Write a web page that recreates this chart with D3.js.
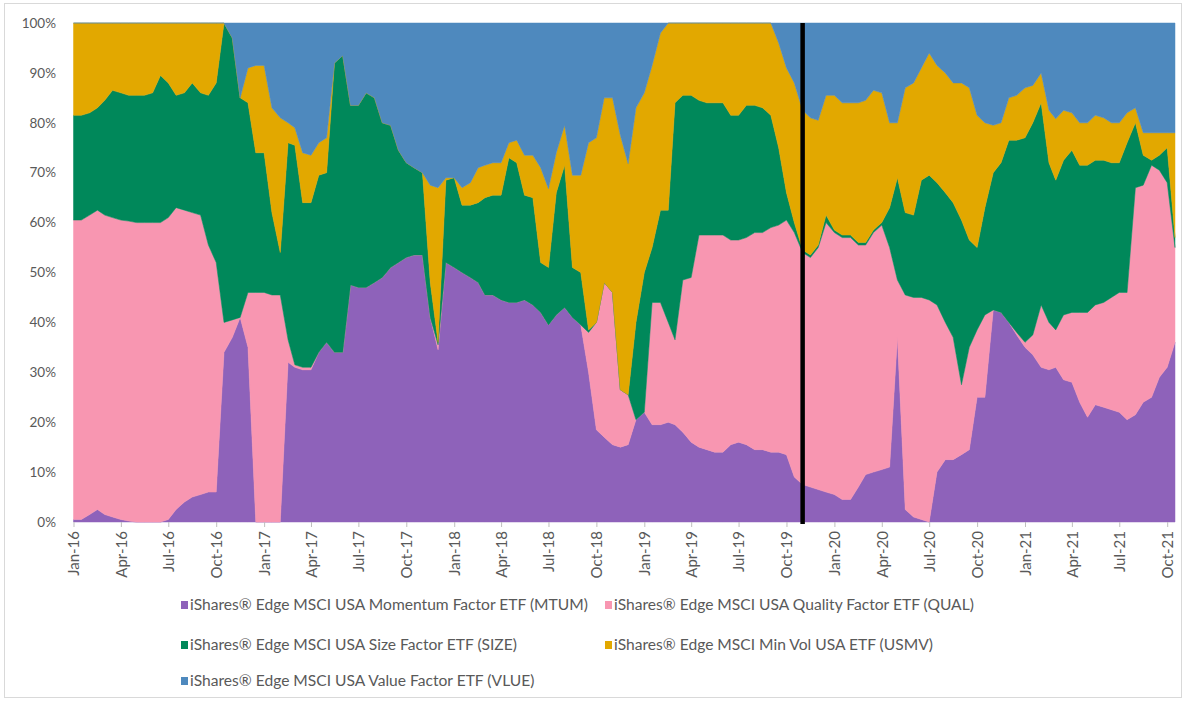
<!DOCTYPE html>
<meta charset="utf-8">
<head>
  <title>iShares factor ETF allocation (100% stacked)</title>
</head>

<style>
body { margin: 0; background: #fff; }
svg text { font-family: Lato, "Open Sans", sans-serif; fill: #595959; }
.frame { fill: none; stroke: #d9d9d9; stroke-width: 1; }
.xaxis path, .xaxis line { stroke: #bfbfbf; }
</style>

<body>
<svg width="1188" height="702"></svg>
<script src="https://cdnjs.cloudflare.com/ajax/libs/d3/7.8.5/d3.min.js"></script>
<script>

var keys = ["MTUM", "QUAL", "SIZE", "USMV", "VLUE"];
var names = [
  "iShares® Edge MSCI USA Momentum Factor ETF (MTUM)",
  "iShares® Edge MSCI USA Quality Factor ETF (QUAL)",
  "iShares® Edge MSCI USA Size Factor ETF (SIZE)",
  "iShares® Edge MSCI Min Vol USA ETF (USMV)",
  "iShares® Edge MSCI USA Value Factor ETF (VLUE)"
];
var colors = ["#8e62ba", "#f896b1", "#00885a", "#e2a800", "#4e89be"];

// weights in %, one reading on the 1st and the 16th of every month
var mtum = [0.5,0.5,1.5,2.5,1.5,1,0.5,0.2,0,0, 0,0,0.5,2.5,4,5,5.5,6,6,34,
  37,41,35,0,0,0,0,32,31,30.5, 30.5,34,36,34,34,47.5,47,47,48,49,
  51,52,53,53.5,53.5,41,34.5,52,51,50, 49,48,45.5,45.5,44.5,44,44,44.5,43.5,42,
  39.5,41.5,43,41,39.5,30,18.5,17,15.5,15, 15.5,20.5,22,19.5,19.5,20,19.5,18,16,15,
  14.5,14,14,15.5,16,15.5,14.5,14.5,14,14, 13.5,9,7.5,7,6.5,6,5.5,4.5,4.5,7,
  9.5,10,10.5,11,37,2.5,1,0.5,0,10, 12.5,12.5,13.5,14.5,25,25,42.5,42,40,37.5,
  35,33.5,31,30.5,31,28.5,28,24,21,23.5, 23,22.5,22,20.5,21.5,24,25,29,31,36];
var qual = [60,60,60,60,60,60,60,60.1,60,60, 60,60,60.5,60.5,58.5,57,56,49.5,46,6,
  3.5,0,11,46,46,45.5,45.5,4.5,0.5,0.5, 0.5,0,0,0,0,0,0,0,0,0,
  0,0,0,0,0,0,1,0,0,0, 0,0,0,0,0,0,0,0,0,0,
  0,0,0,0,0,8,21.5,31,30.5,11.5, 10,0,0,24.5,24.5,20,17,30.5,33,42.5,
  43,43.5,43.5,41,40.5,41.5,43.5,43.5,45,45.5, 47,49,46.5,46,48.5,54,52.5,52.5,52.5,48.5,
  46,48,49,44,11.5,43,44,44.5,44.5,33.5, 27.5,24.5,14,20.5,13.5,16.5,0,0,0,0.5,
  1,4,12.5,9.5,7.5,13,14,18,21,20, 21,22.5,24,25.5,45.5,43.5,46.5,41.5,37,19];
var size = [21,21,20.5,20.5,23,25.5,25.5,25.2,25.5,25.5, 26,29.5,27,22.5,23.5,26,24.5,30,36,60,
  56.5,44,38,28,28,16.5,8.5,39.5,44,33, 33,35.5,34,58,59.5,36,36.5,39,37,31,
  28.5,22.5,19,17.5,16.5,7,0.5,16.5,18,13.5, 14.5,16,19.5,20,21,29,28,21,21.5,10,
  11.5,24.5,28.5,10,10.5,0.5,0,0,0,0, 0,19.5,28,11,18.5,22.5,47.5,37,36.5,27,
  26.5,26.5,26.5,25,25,26.5,25.5,25,22.5,15.5, 5.5,2,0.5,0.5,0.5,1.5,0.5,0.5,0.5,0.5,
  0.5,0.5,0.5,8,20.5,16.5,16.5,23.5,25,24.5, 26,27,33,21.5,16.5,21.5,27.5,30,36.5,38.5,
  41,42.5,40.5,32,30,31,32.5,29.5,29.5,29, 28.5,27,26,30,13,6,1,3,7,2];
var usmv = [18.5,18.5,18,17,15.5,13.5,14,14.5,14.5,14.5, 14,10.5,12,14.5,14,12,14,14.5,12,0,
  0,0,7,17.5,17.5,21,27,4,3.5,10, 9.5,6.5,7,0,0,0,0,0,0,0,
  0,0,0,0,0,19.5,31,0.5,0,3.5, 4.5,7,6.5,6.5,6.5,3,4.5,8,8.5,19,
  15.8,8,8,18.5,19.5,37.5,37,37,39,51, 46.3,43,36,36.5,35.5,37.5,16,14.5,14.5,15.5,
  16,16,16,18.5,18.5,16.5,16.5,17,18.5,21, 25,28,28,27.5,25,24,27,26.5,26.5,28,
  28.5,28,26,17,11,25,26.5,22.5,24.5,23.5, 24,24,27.5,30.5,26.5,17,9.5,8,8.5,9,
  10,7.5,6,10.5,12.3,10,7.5,8.5,8.5,9, 8.5,8,8,6,3,4.5,5.5,4.5,3,21];
var vlue = [0,0,0,0,0,0,0,0,0,0, 0,0,0,0,0,0,0,0,0,0,
  3,15,9,8.5,8.5,17,19,20,21,26, 26.5,24,23,8,6.5,16.5,16.5,14,15,20,
  20.5,25.5,28,29,30,32.5,33,31,31,33, 32,29,28.5,28,28,24,23.5,26.5,26.5,29,
  33.2,26,20.5,30.5,30.5,24,23,15,15,22.5, 28.2,17,14,8.5,2,0,0,0,0,0,
  0,0,0,0,0,0,0,0,0,4, 9,12,17.5,19,19.5,14.5,14.5,16,16,16,
  15.5,13.5,14,20,20,13,12,9,6,8.5, 10,12,12,13,18.5,20,20.5,20,15,14.5,
  13,12.5,10,17.5,19.2,17.5,18,20,20,18.5, 19,20,20,18,17,22,22,22,22,22];
var series = [mtum, qual, size, usmv, vlue];

// observation dates: 1st and 16th of each month, Jan 2016 .. mid Oct 2021
var dates = [];
d3.utcMonth.range(new Date(Date.UTC(2016, 0, 1)), new Date(Date.UTC(2021, 10, 1))).forEach(function(m) {
  dates.push(m);
  dates.push(d3.utcDay.offset(m, 15));
});
dates = dates.slice(0, mtum.length);

var markerDate = new Date(Date.UTC(2019, 10, 1));
var yTicks = [0, 0.1, 0.2, 0.3, 0.4, 0.5, 0.6, 0.7, 0.8, 0.9, 1];

var rows = dates.map(function(d, i) {
  var r = { date: d };
  keys.forEach(function(k, j) { r[k] = series[j][i]; });
  return r;
});

var svg = d3.select("svg");
var plotLeft = 73.5, plotRight = 1175, plotTop = 23, plotBottom = 522;

var x = d3.scaleUtc().domain([dates[0], dates[dates.length - 1]]).range([plotLeft, plotRight]);
var y = d3.scaleLinear().domain([0, 1]).range([plotBottom, plotTop]);

svg.append("rect").attr("class", "frame")
  .attr("x", 4.5).attr("y", 3.5).attr("width", 1177).attr("height", 694);

var stack = d3.stack().keys(keys).offset(d3.stackOffsetExpand);
var layers = stack(rows);

var area = d3.area()
  .x(function(d) { return x(d.data.date); })
  .y0(function(d) { return y(d[0]); })
  .y1(function(d) { return y(d[1]); });

svg.append("g").selectAll("path")
  .data(layers)
  .enter().append("path")
  .attr("d", area)
  .style("fill", function(d, i) { return colors[i]; })
  .style("stroke", function(d, i) { return colors[i]; })
  .style("stroke-width", 0.5);

// x axis, quarterly ticks
var xAxis = d3.axisBottom(x)
  .ticks(d3.utcMonth.every(3))
  .tickFormat(d3.utcFormat("%b-%y"))
  .tickSizeInner(5).tickSizeOuter(0);

var gx = svg.append("g").attr("class", "xaxis")
  .attr("transform", "translate(0," + plotBottom + ")")
  .call(xAxis);
gx.select(".domain").remove();
gx.selectAll("text")
  .attr("transform", "rotate(-90)")
  .attr("text-anchor", "end")
  .attr("x", -9).attr("y", 0).attr("dy", "0.35em")
  .style("font-size", "15px");

// y axis labels only
svg.append("g").selectAll("text")
  .data(yTicks)
  .enter().append("text")
  .attr("x", 56)
  .attr("y", function(d) { return y(d); })
  .attr("dy", "0.35em")
  .attr("text-anchor", "end")
  .style("font-size", "13.5px")
  .text(d3.format(".0%"));

// event marker
svg.append("line")
  .attr("x1", x(markerDate)).attr("x2", x(markerDate))
  .attr("y1", plotTop).attr("y2", plotBottom + 2)
  .style("stroke", "#000").style("stroke-width", 4.5);

// legend
var legendPos = [[181, 605], [605, 605], [181, 645], [605, 645], [181, 681]];
var legend = svg.append("g").selectAll("g")
  .data(names)
  .enter().append("g")
  .attr("transform", function(d, i) { return "translate(" + legendPos[i][0] + "," + legendPos[i][1] + ")"; });

legend.append("rect")
  .attr("x", 0).attr("y", -4).attr("width", 7).attr("height", 8)
  .style("fill", function(d, i) { return colors[i]; });

legend.append("text")
  .attr("x", 9).attr("dy", "0.35em")
  .style("font-size", "15.6px")
  .text(function(d) { return d; });

</script>
</body>
</html>
